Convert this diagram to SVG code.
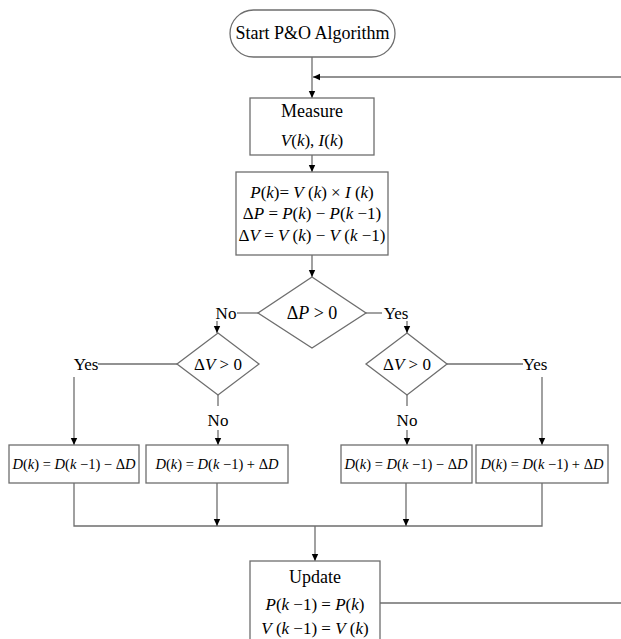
<svg xmlns="http://www.w3.org/2000/svg" width="621" height="639" viewBox="0 0 621 639">
<defs>
<marker id="ah" markerUnits="userSpaceOnUse" markerWidth="8" markerHeight="8" refX="7" refY="4" orient="auto">
<path d="M0,0.8 L7,4 L0,7.2 Z" fill="#000"/>
</marker>
<style>
.n{fill:#fff;stroke:#6e6e6e;stroke-width:1.3}
.c{fill:none;stroke:#6e6e6e;stroke-width:1.3}
.a{fill:none;stroke:#6e6e6e;stroke-width:1.3;marker-end:url(#ah)}
text{fill:#000;text-anchor:middle;font-family:'Liberation Serif',serif}
.t{font-size:18px}
.m{font-size:17px}
.s{font-size:14.5px}
.l{font-size:17px}
.i{font-style:italic}
</style>
</defs>
<rect width="621" height="639" fill="#fff"/>
<g id="connectors">
<path class="a" d="M312,57 V98"/>
<path class="a" d="M621,77 H313"/>
<path class="a" d="M312,155 V172"/>
<path class="a" d="M312,255 V277"/>
<path class="c" d="M237,313 H258"/>
<path class="c" d="M366,313 H382"/>
<path class="a" d="M217,321 V333"/>
<path class="a" d="M407,321 V333"/>
<path class="c" d="M98,364 H177"/>
<path class="a" d="M74,377 V445"/>
<path class="c" d="M218,395 V406"/>
<path class="a" d="M218,430 V445"/>
<path class="c" d="M447,364 H523"/>
<path class="a" d="M542,377 V445"/>
<path class="c" d="M407,395 V406"/>
<path class="a" d="M407,430 V445"/>
<path class="c" d="M74,483 V526 H542 V483"/>
<path class="a" d="M217,483 V526"/>
<path class="a" d="M406,483 V526"/>
<path class="a" d="M315,526 V561"/>
<path class="c" d="M380,603 H621"/>
</g>
<g id="labels">
<text class="l" x="226" y="319">No</text>
<text class="l" x="396" y="319">Yes</text>
<text class="l" x="86" y="370">Yes</text>
<text class="l" x="218" y="426">No</text>
<text class="l" x="407" y="426">No</text>
<text class="l" x="535" y="370">Yes</text>
</g>
<g id="start">
<rect class="n" x="230" y="10" width="165" height="47" rx="23.5"/>
<text class="t" x="312.5" y="39">Start P&amp;O Algorithm</text>
</g>
<g id="measure">
<rect class="n" x="250" y="98" width="124" height="57"/>
<text class="t" x="312" y="117">Measure</text>
<text class="m" x="312" y="146"><tspan class="i">V</tspan>(<tspan class="i">k</tspan>), <tspan class="i">I</tspan>(<tspan class="i">k</tspan>)</text>
</g>
<g id="compute">
<rect class="n" x="236" y="172" width="152" height="83"/>
<text class="m" x="312" y="198"><tspan class="i">P</tspan>(<tspan class="i">k</tspan>)= <tspan class="i">V</tspan> (<tspan class="i">k</tspan>) × <tspan class="i">I</tspan> (<tspan class="i">k</tspan>)</text>
<text class="m" x="312" y="219">Δ<tspan class="i">P</tspan> = <tspan class="i">P</tspan>(<tspan class="i">k</tspan>) − <tspan class="i">P</tspan>(<tspan class="i">k</tspan> −1)</text>
<text class="m" x="312" y="241">Δ<tspan class="i">V</tspan> = <tspan class="i">V</tspan> (<tspan class="i">k</tspan>) − <tspan class="i">V</tspan> (<tspan class="i">k</tspan> −1)</text>
</g>
<g id="dP">
<path class="n" d="M312,277 L366,313 L312,348 L258,313 Z"/>
<text class="m" x="312" y="319" style="font-size:18px">Δ<tspan class="i">P</tspan> &gt; 0</text>
</g>
<g id="dV-left">
<path class="n" d="M218,333 L259,364 L218,395 L177,364 Z"/>
<text class="l" x="218" y="370">Δ<tspan class="i">V</tspan> &gt; 0</text>
</g>
<g id="dV-right">
<path class="n" d="M407,333 L447,364 L407,395 L366,364 Z"/>
<text class="l" x="407" y="370">Δ<tspan class="i">V</tspan> &gt; 0</text>
</g>
<g id="box1">
<rect class="n" x="9" y="445" width="130" height="38"/>
<text class="s" x="74" y="469"><tspan class="i">D</tspan>(<tspan class="i">k</tspan>) = <tspan class="i">D</tspan>(<tspan class="i">k</tspan> −1) − Δ<tspan class="i">D</tspan></text>
</g>
<g id="box2">
<rect class="n" x="146" y="445" width="142" height="38"/>
<text class="s" x="217" y="469"><tspan class="i">D</tspan>(<tspan class="i">k</tspan>) = <tspan class="i">D</tspan>(<tspan class="i">k</tspan> −1) + Δ<tspan class="i">D</tspan></text>
</g>
<g id="box3">
<rect class="n" x="341" y="445" width="131" height="38"/>
<text class="s" x="406" y="469"><tspan class="i">D</tspan>(<tspan class="i">k</tspan>) = <tspan class="i">D</tspan>(<tspan class="i">k</tspan> −1) − Δ<tspan class="i">D</tspan></text>
</g>
<g id="box4">
<rect class="n" x="476" y="445" width="132" height="38"/>
<text class="s" x="542" y="469"><tspan class="i">D</tspan>(<tspan class="i">k</tspan>) = <tspan class="i">D</tspan>(<tspan class="i">k</tspan> −1) + Δ<tspan class="i">D</tspan></text>
</g>
<g id="update">
<rect class="n" x="250" y="561" width="130" height="90"/>
<text class="t" x="315" y="583">Update</text>
<text class="m" x="315" y="610"><tspan class="i">P</tspan>(<tspan class="i">k</tspan> −1) = <tspan class="i">P</tspan>(<tspan class="i">k</tspan>)</text>
<text class="m" x="315" y="634"><tspan class="i">V</tspan> (<tspan class="i">k</tspan> −1) = <tspan class="i">V</tspan> (<tspan class="i">k</tspan>)</text>
</g>
</svg>
